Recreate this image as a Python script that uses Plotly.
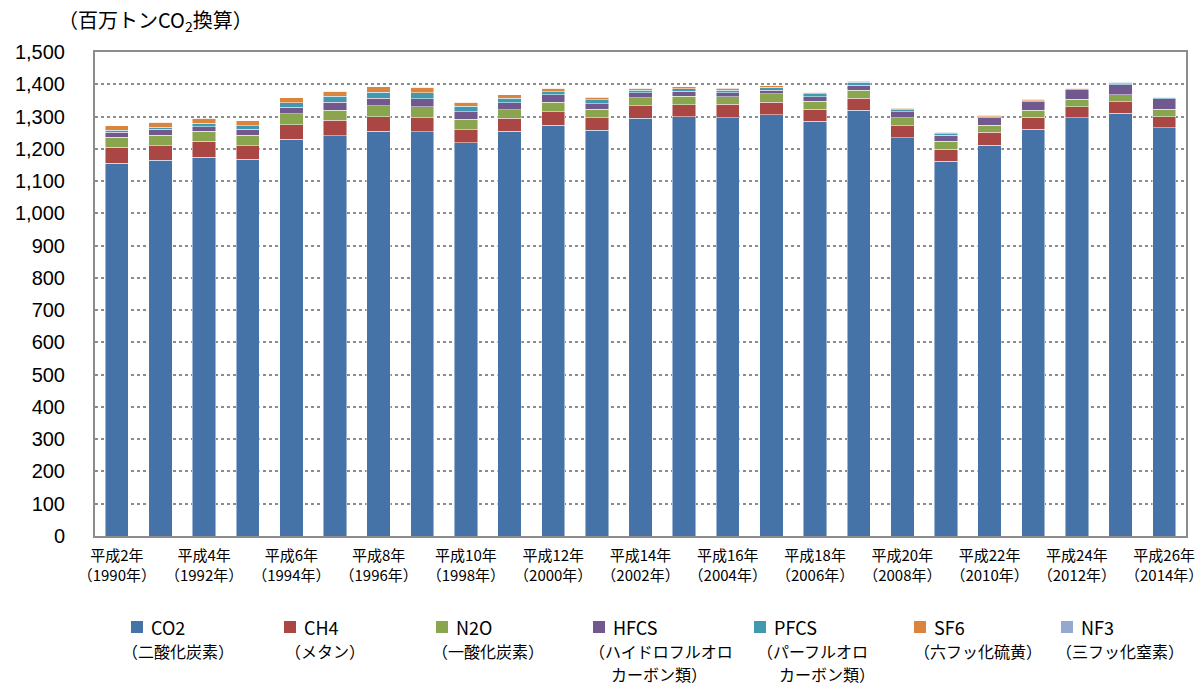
import plotly.graph_objects as go

years = [str(y) for y in range(1990, 2015)]
tick_years = [str(y) for y in range(1990, 2015, 2)]
tick_text = [f"平成{y-1988}年<br>（{y}年）" for y in range(1990, 2015, 2)]

co2  = [1156,1165,1174,1168,1230,1241,1255,1253,1218,1254,1273,1257,1294,1299,1297,1306,1286,1319,1235,1162,1211,1261,1296,1310,1265]
ch4  = [49,45,49,42,45,47,44,43,41,40,42,40,40,38,41,38,37,38,36,37,40,37,35,36,35]
n2o  = [31,32,32,32,33,32,34,34,33,27,29,26,25,26,24,26,25,24,25,24,22,22,23,22,22]
hfcs = [15,18,14,19,21,25,23,25,23,22,23,17,15,15,11,11,14,16,19,19,23,26,29,31,33]
pfcs = [6,7,10,10,14,18,19,19,17,14,10,12,8,8,8,9,8,9,6,5,4,3,3,3,3]
sf6  = [14,15,15,16,15,15,17,16,12,11,10,7,6,6,7,5,5,4,4,3,3,3,2,2,2]
nf3  = [0.03,0.03,0.03,0.03,0.1,0.2,0.2,0.2,0.2,0.3,0.3,0.3,0.4,0.4,0.6,1.0,1.0,1.4,1.5,1.3,1.5,1.5,1.5,1.5,1.5]

gas_names = ["CO2", "CH4", "N2O", "HFCS", "PFCS", "SF6", "NF3"]
gas_desc = [
    ["（二酸化炭素）"],
    ["（メタン）"],
    ["（一酸化炭素）"],
    ["（ハイドロフルオロ", "カーボン類）"],
    ["（パーフルオロ", "カーボン類）"],
    ["（六フッ化硫黄）"],
    ["（三フッ化窒素）"],
]
gas_values = [co2, ch4, n2o, hfcs, pfcs, sf6, nf3]
colors = ["#4572A7", "#AA4643", "#89A54E", "#71588F", "#4198AF", "#DB843D", "#93A9CF"]

# layout geometry (pixels)
W, H = 1204, 686
L, R, T, B = 95, 18, 52, 150
PW, PH = W - L - R, H - T - B

def px(x):
    return (x - L) / PW

def py(y):
    return (H - B - y) / PH

fig = go.Figure()
for name, vals, color in zip(gas_names, gas_values, colors):
    fig.add_trace(go.Bar(
        x=years, y=vals, name=name, showlegend=False,
        marker=dict(color=color, line=dict(color="rgba(255,255,255,0.6)", width=0.8)),
    ))

jp = "Noto Sans CJK JP, Liberation Sans, Arial, sans-serif"

# custom legend (positions in pixels)
marker_x = [131, 284, 436, 593, 754, 914, 1061]
line1_x = [149, 302, 454, 611, 772, 932, 1079]
line2_x = [120, 283, 430, 587, 755, 912, 1054]
line3_x = [None, None, None, 609, 777, None, None]
row_y = [627, 651, 674]

annotations = [dict(
    text="（百万トンCO<sub>2</sub>換算）", xref="paper", yref="paper",
    x=px(56), y=py(21), xanchor="left", yanchor="middle",
    showarrow=False, font=dict(size=20, family=jp),
)]
shapes = []
for i in range(len(gas_names)):
    shapes.append(dict(
        type="rect", xref="paper", yref="paper",
        x0=px(marker_x[i]), x1=px(marker_x[i] + 12),
        y0=py(row_y[0] + 6), y1=py(row_y[0] - 6),
        fillcolor=colors[i], line=dict(width=0),
    ))
    annotations.append(dict(
        text=gas_names[i], xref="paper", yref="paper",
        x=px(line1_x[i]), y=py(row_y[0]), xanchor="left", yanchor="middle",
        showarrow=False, font=dict(size=18, family=jp),
    ))
    for j, d in enumerate(gas_desc[i]):
        xx = line2_x[i] if j == 0 else line3_x[i]
        annotations.append(dict(
            text=d, xref="paper", yref="paper",
            x=px(xx), y=py(row_y[j + 1]), xanchor="left", yanchor="middle",
            showarrow=False, font=dict(size=16, family=jp),
        ))

fig.update_layout(
    width=W, height=H,
    barmode="stack", bargap=0.465,
    plot_bgcolor="white", paper_bgcolor="white",
    margin=dict(l=L, r=R, t=T, b=B, autoexpand=False),
    font=dict(family=jp, color="black"),
    showlegend=False,
    xaxis=dict(
        type="category", range=[-0.5, 24.5],
        tickmode="array", tickvals=tick_years, ticktext=tick_text,
        tickfont=dict(size=15, family=jp), tickangle=0,
        showline=True, linecolor="#8c8c8c", linewidth=2, mirror=True,
        ticks="", showgrid=False, ticklabelstandoff=5, automargin=False,
    ),
    yaxis=dict(
        range=[0, 1500], dtick=100, tickformat=",",
        tickfont=dict(size=20, family="Liberation Sans, Arial, sans-serif"),
        showline=True, linecolor="#8c8c8c", linewidth=2, mirror=True,
        showgrid=True, gridcolor="#8c8c8c", griddash="dot", gridwidth=1.5,
        ticks="", zeroline=False, ticklabelstandoff=24, automargin=False,
    ),
    annotations=annotations,
    shapes=shapes,
)

fig.write_html(
    "out.html",
    config={"displayModeBar": False},
    post_script="document.body.style.margin='0';document.body.style.overflow='hidden';",
)
